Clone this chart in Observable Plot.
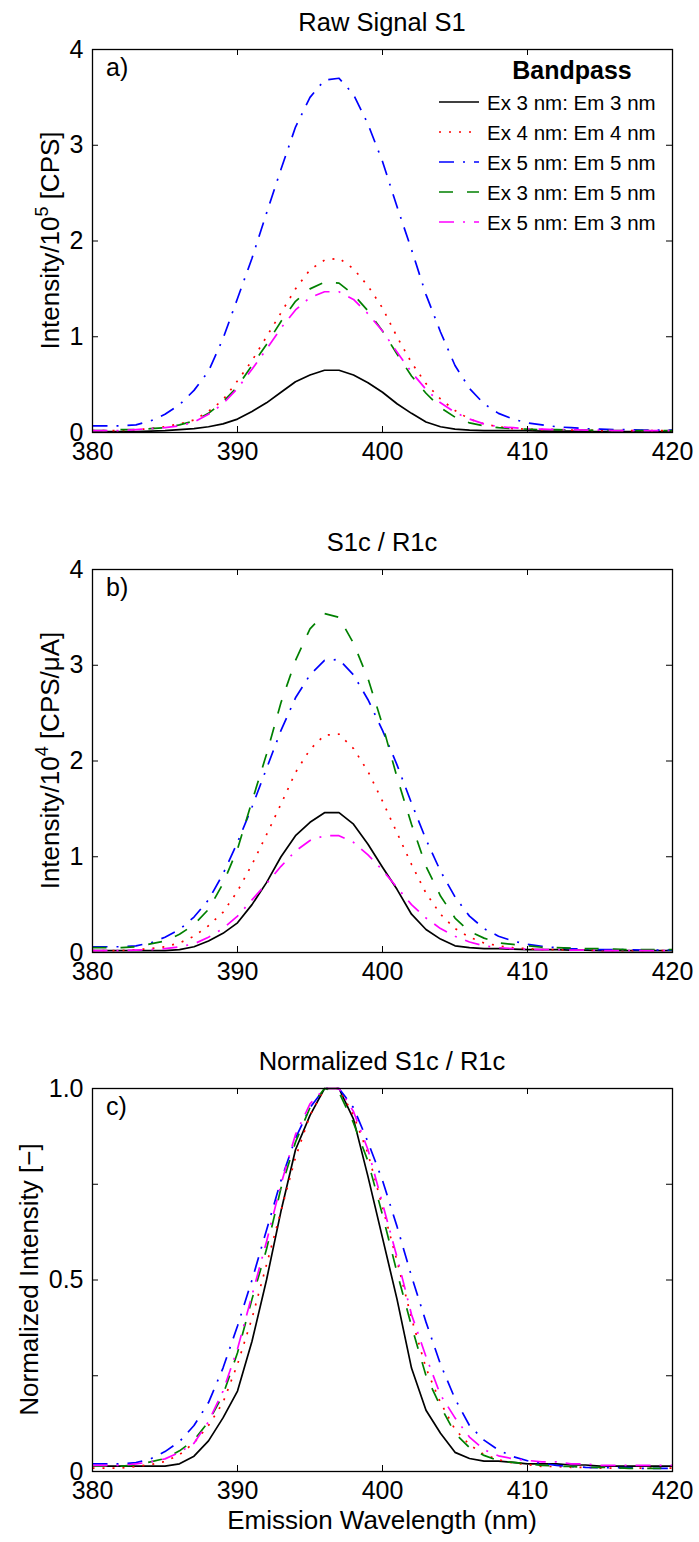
<!DOCTYPE html>
<html>
<head>
<meta charset="utf-8">
<script src="https://cdn.jsdelivr.net/npm/d3@7"></script>
<script src="https://cdn.jsdelivr.net/npm/@observablehq/plot@0.6"></script>
<style>
  html, body { margin: 0; padding: 0; background: #fff; }
  #chart svg { display: block; }
</style>
</head>
<body>
<div id="chart"></div>
<script>
// ---------------- data ----------------
const wavelength = [380,381,382,383,384,385,386,387,388,389,390,391,392,393,394,395,396,397,398,399,400,401,402,403,404,405,406,407,408,409,410,411,412,413,414,415,416,417,418,419,420];

const seriesNames = ["Ex 3 nm: Em 3 nm", "Ex 4 nm: Em 4 nm", "Ex 5 nm: Em 5 nm", "Ex 3 nm: Em 5 nm", "Ex 5 nm: Em 3 nm"];
const seriesColors = ["#000000", "#ff0000", "#0000ff", "#008000", "#ff00ff"];
const seriesDash = [null, "2,8", "15,9,2,9", "14,14", "15,9,2,9"];

// a) Raw Signal S1, Intensity / 1e5 [CPS]
const rawEx3Em3 = [0.01,0.01,0.01,0.01,0.015,0.02,0.03,0.04,0.06,0.09, 0.14,0.22,0.31,0.42,0.53,0.60,0.65,0.65,0.60,0.52, 0.42,0.30,0.20,0.11,0.06,0.035,0.025,0.02,0.02,0.02, 0.02,0.015,0.015,0.015,0.01,0.01,0.01,0.01,0.01,0.01,0.01];
const rawEx4Em4 = [0.02,0.02,0.02,0.03,0.04,0.06,0.09,0.13,0.22,0.34, 0.54,0.75,1.00,1.25,1.50,1.70,1.80,1.82,1.71,1.53, 1.30,1.00,0.73,0.51,0.35,0.23,0.14,0.09,0.06,0.04, 0.035,0.03,0.03,0.025,0.025,0.02,0.02,0.02,0.02,0.02,0.02];
const rawEx5Em5 = [0.07,0.07,0.07,0.08,0.12,0.19,0.29,0.44,0.64,0.98, 1.40,1.82,2.29,2.75,3.19,3.50,3.68,3.70,3.53,3.22, 2.83,2.36,1.91,1.44,1.05,0.70,0.46,0.30,0.20,0.14, 0.10,0.08,0.06,0.05,0.04,0.035,0.03,0.03,0.025,0.025,0.025];
const rawEx3Em5 = [0.02,0.02,0.03,0.03,0.04,0.05,0.08,0.12,0.20,0.32, 0.48,0.70,0.92,1.16,1.37,1.50,1.57,1.56,1.44,1.27, 1.06,0.82,0.59,0.41,0.26,0.16,0.10,0.07,0.05,0.04, 0.035,0.03,0.03,0.025,0.025,0.02,0.02,0.02,0.02,0.02,0.02];
const rawEx5Em3 = [0.02,0.02,0.02,0.03,0.04,0.05,0.07,0.11,0.19,0.30, 0.46,0.66,0.87,1.09,1.28,1.41,1.47,1.47,1.39,1.24, 1.06,0.84,0.63,0.45,0.31,0.21,0.14,0.09,0.06,0.05, 0.04,0.035,0.03,0.03,0.025,0.025,0.02,0.02,0.02,0.02,0.02];

// b) S1c / R1c, Intensity / 1e4 [CPS/uA]
const corrEx3Em3 = [0.02,0.02,0.02,0.02,0.02,0.02,0.03,0.06,0.12,0.20, 0.31,0.50,0.73,1.00,1.22,1.36,1.46,1.46,1.34,1.13, 0.89,0.66,0.40,0.24,0.14,0.07,0.05,0.04,0.04,0.035, 0.03,0.03,0.03,0.025,0.025,0.02,0.02,0.02,0.02,0.02,0.02];
const corrEx4Em4 = [0.02,0.02,0.02,0.03,0.04,0.06,0.10,0.17,0.28,0.42, 0.64,0.92,1.23,1.55,1.88,2.12,2.27,2.28,2.13,1.89, 1.58,1.25,0.92,0.62,0.40,0.25,0.16,0.10,0.07,0.05, 0.04,0.03,0.03,0.025,0.025,0.02,0.02,0.02,0.02,0.02,0.02];
const corrEx5Em5 = [0.06,0.06,0.06,0.07,0.10,0.16,0.24,0.37,0.55,0.82, 1.15,1.52,1.92,2.32,2.66,2.90,3.05,3.06,2.90,2.64, 2.32,1.96,1.56,1.18,0.85,0.58,0.38,0.25,0.17,0.12, 0.085,0.065,0.05,0.04,0.035,0.03,0.03,0.03,0.025,0.025,0.025];
const corrEx3Em5 = [0.05,0.05,0.05,0.06,0.09,0.12,0.19,0.29,0.45,0.72, 1.08,1.58,2.07,2.61,3.05,3.38,3.54,3.50,3.23,2.86, 2.38,1.83,1.34,0.90,0.59,0.36,0.22,0.15,0.10,0.085, 0.07,0.055,0.05,0.045,0.04,0.04,0.035,0.03,0.03,0.03,0.03];
const corrEx5Em3 = [0.02,0.02,0.02,0.025,0.03,0.04,0.06,0.09,0.16,0.25, 0.38,0.55,0.72,0.90,1.06,1.17,1.22,1.22,1.15,1.02, 0.86,0.68,0.50,0.36,0.25,0.17,0.11,0.07,0.05,0.04, 0.035,0.03,0.03,0.025,0.025,0.02,0.02,0.02,0.02,0.02,0.02];

// c) Normalized S1c / R1c
const normEx3Em3 = [0.014,0.014,0.014,0.014,0.014,0.014,0.02,0.04,0.08,0.14, 0.21,0.34,0.50,0.68,0.84,0.93,1.00,1.00,0.92,0.77, 0.61,0.45,0.27,0.16,0.10,0.05,0.034,0.027,0.027,0.024, 0.02,0.02,0.02,0.017,0.017,0.014,0.014,0.014,0.014,0.014,0.014];
const normEx4Em4 = [0.009,0.009,0.009,0.013,0.018,0.026,0.044,0.075,0.12,0.18, 0.28,0.40,0.54,0.68,0.82,0.93,1.00,1.00,0.93,0.83, 0.69,0.55,0.40,0.27,0.18,0.11,0.07,0.044,0.031,0.022, 0.018,0.013,0.013,0.011,0.011,0.009,0.009,0.009,0.009,0.009,0.009];
const normEx5Em5 = [0.02,0.02,0.02,0.023,0.033,0.052,0.078,0.12,0.18,0.27, 0.38,0.50,0.63,0.76,0.87,0.95,1.00,1.00,0.95,0.86, 0.76,0.64,0.51,0.39,0.28,0.19,0.12,0.082,0.056,0.039, 0.028,0.021,0.016,0.013,0.011,0.01,0.01,0.01,0.008,0.008,0.008];
const normEx3Em5 = [0.014,0.014,0.014,0.017,0.025,0.034,0.054,0.082,0.13,0.20, 0.31,0.45,0.58,0.74,0.86,0.95,1.00,0.99,0.91,0.81, 0.67,0.52,0.38,0.25,0.17,0.10,0.062,0.042,0.028,0.024, 0.02,0.016,0.014,0.013,0.011,0.011,0.01,0.008,0.008,0.008,0.008];
const normEx5Em3 = [0.016,0.016,0.016,0.02,0.025,0.033,0.05,0.074,0.13,0.21, 0.32,0.46,0.60,0.75,0.88,0.96,1.00,1.00,0.94,0.84, 0.70,0.56,0.41,0.30,0.20,0.14,0.09,0.057,0.041,0.033, 0.029,0.025,0.025,0.02,0.02,0.016,0.016,0.016,0.016,0.016,0.016];

const xTicks = [380, 390, 400, 410, 420];
const yTicksAB = [0, 1, 2, 3, 4];
const yTicksC = [0, 0.25, 0.5, 0.75, 1];
const yLabelTicksC = [0, 0.5, 1];
const yLabelTextC = ["0", "0.5", "1.0"];

const panelTitles = ["Raw Signal S1", "S1c / R1c", "Normalized S1c / R1c"];
const panelLetters = ["a)", "b)", "c)"];
const legendTitle = "Bandpass";
const xTitle = "Emission Wavelength (nm)";

// ---------------- layout ----------------
const W = 699, ML = 92, MR = 27;
const FONT = "'Liberation Sans', Arial, Helvetica, sans-serif";

const panels = [
  { title: panelTitles[0], letter: panelLetters[0], yLab: ["Intensity/10", "5", " [CPS]"], yLabX: 59,
    yDomain: [0, 4], yTicks: yTicksAB, yLabelTicks: yTicksAB, yFmt: d => String(d),
    series: [rawEx3Em3, rawEx4Em4, rawEx5Em5, rawEx3Em5, rawEx5Em3],
    height: 519, mt: 49, mb: 87, legend: true },
  { title: panelTitles[1], letter: panelLetters[1], yLab: ["Intensity/10", "4", " [CPS/\u03BCA]"], yLabX: 59,
    yDomain: [0, 4], yTicks: yTicksAB, yLabelTicks: yTicksAB, yFmt: d => String(d),
    series: [corrEx3Em3, corrEx4Em4, corrEx5Em5, corrEx3Em5, corrEx5Em3],
    height: 519, mt: 50, mb: 86 },
  { title: panelTitles[2], letter: panelLetters[2], yLab: ["Normalized Intensity [\u2212]"], yLabX: 38,
    yDomain: [0, 1], yTicks: yTicksC, yLabelTicks: yLabelTicksC, yFmt: d => yLabelTextC[yLabelTicksC.indexOf(d)],
    series: [normEx3Em3, normEx4Em4, normEx5Em5, normEx3Em5, normEx5Em3],
    height: 504, mt: 50, mb: 71, xLabel: xTitle }
];

const root = document.getElementById("chart");

panels.forEach(cfg => {
  const H = cfg.height, MT = cfg.mt, MB = cfg.mb;
  const plotH = H - MT - MB, plotW = W - ML - MR;
  const marks = [];
  cfg.series.forEach((arr, i) => {
    const rows = wavelength.map((w, j) => ({ w, v: arr[j], s: seriesNames[i] }));
    marks.push(Plot.line(rows, {
      x: "w", y: "v", stroke: seriesColors[i], strokeWidth: 1.7,
      strokeDasharray: seriesDash[i], strokeLinecap: "butt", strokeLinejoin: "round"
    }));
  });
  // inward ticks on all four sides
  marks.push(Plot.tickX(xTicks, { x: d => d, insetTop: plotH - 6, stroke: "#000", strokeWidth: 1 }));
  marks.push(Plot.tickX(xTicks, { x: d => d, insetBottom: plotH - 6, stroke: "#000", strokeWidth: 1 }));
  marks.push(Plot.tickY(cfg.yTicks, { y: d => d, insetRight: plotW - 6, stroke: "#000", strokeWidth: 1 }));
  marks.push(Plot.tickY(cfg.yTicks, { y: d => d, insetLeft: plotW - 6, stroke: "#000", strokeWidth: 1 }));
  marks.push(Plot.frame({ stroke: "#000", strokeWidth: 1.3 }));
  marks.push(Plot.axisX({ ticks: xTicks, tickSize: 0, tickPadding: 10, label: null, tickFormat: d => String(d) }));
  marks.push(Plot.axisY({ ticks: cfg.yLabelTicks, tickSize: 0, tickPadding: 9, label: null, tickFormat: cfg.yFmt }));

  const svg = Plot.plot({
    width: W, height: H,
    marginLeft: ML, marginRight: MR, marginTop: MT, marginBottom: MB,
    x: { domain: [380, 420] },
    y: { domain: cfg.yDomain },
    style: { fontFamily: FONT, fontSize: "25px", color: "#000", background: "#fff", overflow: "visible" },
    marks
  });

  const s = d3.select(svg);
  // title
  s.append("text").attr("x", ML + plotW / 2).attr("y", MT - 18)
    .attr("text-anchor", "middle").attr("font-size", 25.5).attr("fill", "#000")
    .text(cfg.title);
  // panel letter
  s.append("text").attr("x", ML + 14).attr("y", MT + 27).attr("text-anchor", "start")
    .attr("font-size", 25).attr("fill", "#000").text(cfg.letter);
  // y axis label (with superscript)
  const yl = s.append("text")
    .attr("transform", `translate(${cfg.yLabX},${MT + plotH / 2}) rotate(-90)`)
    .attr("text-anchor", "middle").attr("font-size", 26).attr("fill", "#000");
  yl.append("tspan").text(cfg.yLab[0]);
  if (cfg.yLab.length > 1) {
    yl.append("tspan").attr("dy", -11).attr("font-size", 18).text(cfg.yLab[1]);
    yl.append("tspan").attr("dy", 11).text(cfg.yLab[2]);
  }
  // x axis label
  if (cfg.xLabel) {
    s.append("text").attr("x", ML + plotW / 2).attr("y", MT + plotH + 58)
      .attr("text-anchor", "middle").attr("font-size", 26).attr("fill", "#000")
      .text(cfg.xLabel);
  }
  // legend
  if (cfg.legend) {
    const g = s.append("g");
    g.append("text").attr("x", 572).attr("y", 79).attr("text-anchor", "middle")
      .attr("font-size", 25).attr("font-weight", "bold").attr("fill", "#000").text(legendTitle);
    seriesNames.forEach((name, i) => {
      const cy = 102 + i * 30;
      g.append("line").attr("x1", 439).attr("x2", 479).attr("y1", cy).attr("y2", cy)
        .attr("stroke", seriesColors[i]).attr("stroke-width", 1.7)
        .attr("stroke-dasharray", seriesDash[i]);
      g.append("text").attr("x", 487).attr("y", cy + 7.5).attr("text-anchor", "start")
        .attr("font-size", 20.5).attr("fill", "#000").text(name);
    });
  }
  root.appendChild(svg);
});
</script>
</body>
</html>
